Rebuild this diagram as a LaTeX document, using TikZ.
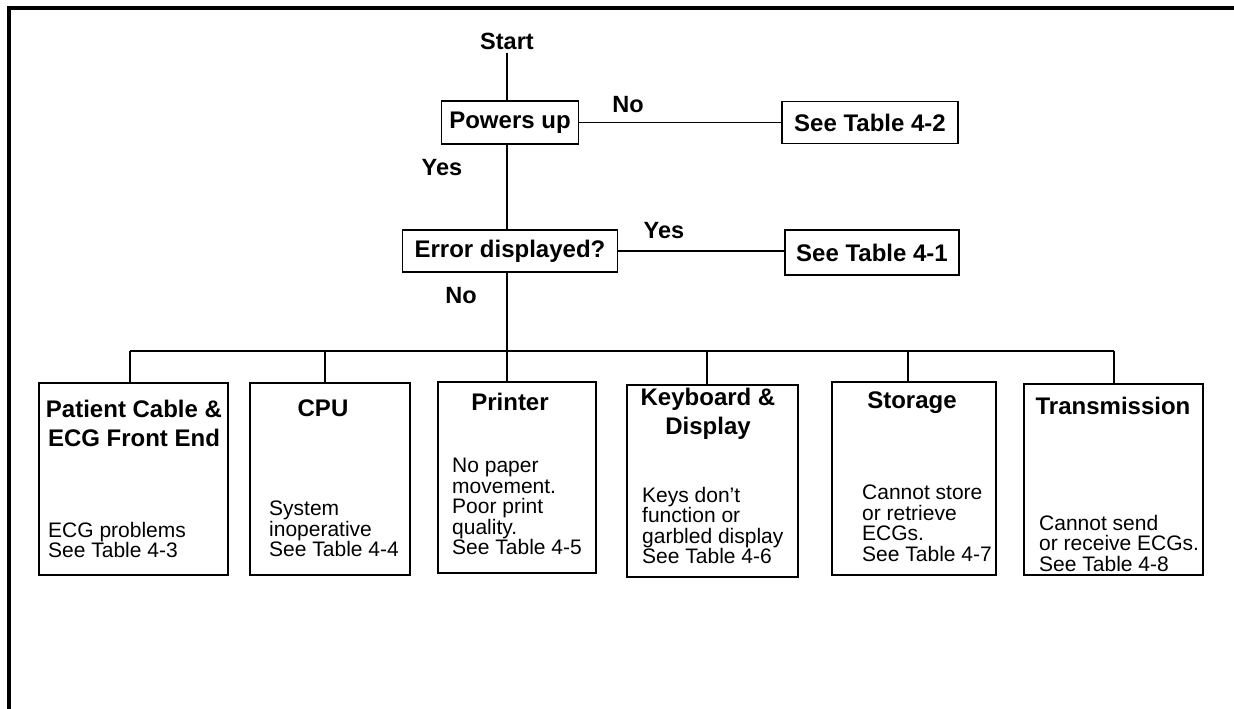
\documentclass[tikz,border=0pt]{standalone}
\usepackage{fontspec}
\setmainfont{Liberation Sans}
\usepackage{tikz}
\usetikzlibrary{positioning}
\tikzset{
    stepbox/.style={
        draw,
        line width=1.8pt,
        inner sep=0pt,
        font=\bfseries\fontsize{24}{27}\selectfont
    },
    unitbox/.style={
        draw,
        line width=1.8pt,
        inner sep=0pt
    },
    unittitle/.style={
        anchor=north,
        inner sep=0pt,
        align=center,
        font=\bfseries\fontsize{24}{29}\selectfont
    },
    unitnote/.style={
        anchor=north west,
        inner sep=0pt,
        align=left,
        font=\fontsize{21}{20.5}\selectfont
    },
    answer/.style={
        inner sep=0pt,
        font=\bfseries\fontsize{23.5}{26}\selectfont
    },
    every edge/.style={
        draw,
        line width=1.8pt
    }
}

\begin{document}
\begin{tikzpicture}[x=1pt, y=-1pt]
    \useasboundingbox (0,0) rectangle (1234,709);
    % Frame
    \draw[line width=4pt] (9,709) -- (9,8) -- (1234,8);

    % Decisions
    \node[answer, inner sep=3pt] (start) at (507,41) {Start};
    \node[stepbox, minimum width=137pt, minimum height=43pt] (powers) at (510,122.5) {Powers up};
    \node[stepbox, minimum width=176pt, minimum height=42pt] (tab42) at (870,122.5) {See Table 4-2};
    \node[stepbox, minimum width=215pt, minimum height=42pt] (error) at (510,251) {Error displayed?};
    \node[stepbox, minimum width=174pt, minimum height=45pt] (tab41) at (872,252.5) {See Table 4-1};

    % Answers
    \node[answer] (nopower) at (628,105) {No};
    \node[answer] (yespower) at (442,168) {Yes};
    \node[answer] (yeserror) at (664,231) {Yes};
    \node[answer] (noerror) at (461,296) {No};

    % Units
    \node[unitbox, minimum width=189pt, minimum height=192pt] (patient) at (133.5,479) {};
    \node[unitbox, minimum width=160pt, minimum height=192pt] (cpu) at (330,479) {};
    \node[unitbox, minimum width=158pt, minimum height=191pt] (printer) at (517,477.5) {};
    \node[unitbox, minimum width=171pt, minimum height=192pt] (keyboard) at (712.5,481) {};
    \node[unitbox, minimum width=164pt, minimum height=193pt] (storage) at (914,478.5) {};
    \node[unitbox, minimum width=179pt, minimum height=191pt] (transmission) at (1113.5,479.5) {};

    \node[unittitle] (patienttitle) at (134,400) {Patient Cable \&\\ECG Front End};
    \node[unittitle] (cputitle) at (323,400) {CPU};
    \node[unittitle] (printertitle) at (510,393) {Printer};
    \node[unittitle] (keyboardtitle) at (708,388) {Keyboard \&\\Display};
    \node[unittitle] (storagetitle) at (912,392) {Storage};
    \node[unittitle] (transmissiontitle) at (1113,397) {Transmission};

    \node[unitnote] (patientnote) at (48,522) {ECG problems\\See Table 4-3};
    \node[unitnote] (cpunote) at (269,501) {System\\inoperative\\See Table 4-4};
    \node[unitnote] (printernote) at (452,458) {No paper\\movement.\\Poor print\\quality.\\See Table 4-5};
    \node[unitnote] (keyboardnote) at (642,487) {Keys don’t\\function or\\garbled display\\See Table 4-6};
    \node[unitnote] (storagenote) at (862,485) {Cannot store\\or retrieve\\ECGs.\\See Table 4-7};
    \node[unitnote] (transmissionnote) at (1039,515) {Cannot send\\or receive ECGs.\\See Table 4-8};

    % Bus
    \coordinate (bus) at (507,351);
    \coordinate (busleft) at (130,351);
    \coordinate (buscpu) at (325,351);
    \coordinate (busprinter) at (507,351);
    \coordinate (buskeyboard) at (707,351);
    \coordinate (busstorage) at (908,351);
    \coordinate (busright) at (1114,351);

    % Lines
    \draw (start) edge (start |- powers.north);
    \draw (powers.south -| start) edge (start |- error.north);
    \draw (error.south -| start) edge (bus);
    \draw (powers) edge (tab42);
    \draw (error.east) edge (error.east -| tab41.west);
    \draw (busleft) edge (busright);
    \draw (busleft) edge (busleft |- patient.north);
    \draw (buscpu) edge (buscpu |- cpu.north);
    \draw (busprinter) edge (busprinter |- printer.north);
    \draw (buskeyboard) edge (buskeyboard |- keyboard.north);
    \draw (busstorage) edge (busstorage |- storage.north);
    \draw (busright) edge (busright |- transmission.north);
\end{tikzpicture}
\end{document}
